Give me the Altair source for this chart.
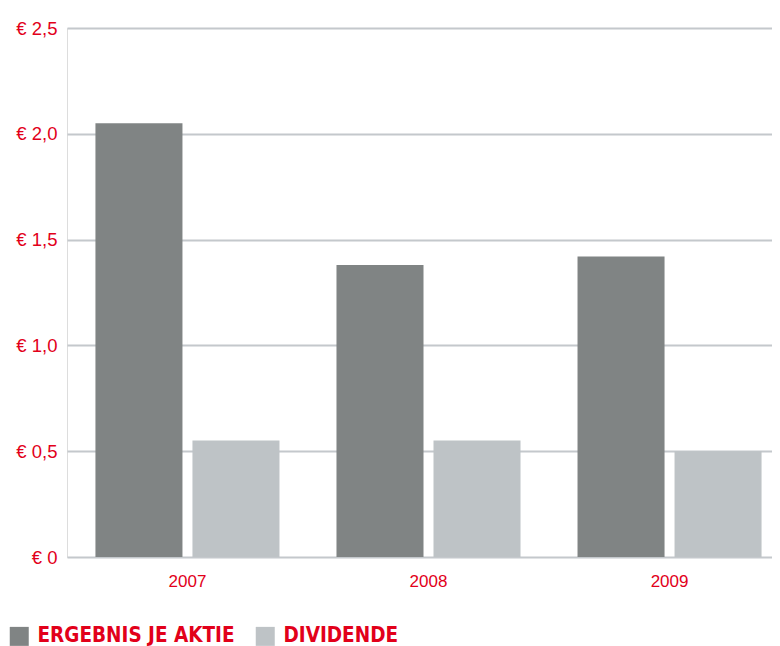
import altair as alt
import pandas as pd

years = ["2007", "2008", "2009"]
series = ["ERGEBNIS JE AKTIE", "DIVIDENDE"]
ergebnis = [2.05, 1.38, 1.42]
dividende = [0.55, 0.55, 0.50]
colors = ["#808484", "#bec3c6"]
y_ticks = [0, 0.5, 1.0, 1.5, 2.0, 2.5]

rows = []
for i, yr in enumerate(years):
    rows.append({"year": yr, "series": series[0], "value": ergebnis[i]})
    rows.append({"year": yr, "series": series[1], "value": dividende[i]})
df = pd.DataFrame(rows)

RED = "#e2001a"

chart = alt.Chart(df).mark_bar().encode(
    x=alt.X("year:N", sort=years, title=None,
            scale=alt.Scale(paddingInner=0.2365, paddingOuter=0.118, range=[0, 723]),
            axis=alt.Axis(labelAngle=0, labelColor=RED, labelFont="Liberation Sans",
                          labelFontSize=17, labelPadding=16, ticks=False, domain=False)),
    xOffset=alt.XOffset("series:N", sort=series,
                        scale=alt.Scale(paddingInner=0.103, paddingOuter=0)),
    y=alt.Y("value:Q", title=None,
            scale=alt.Scale(domain=[0, 2.5], nice=False),
            axis=alt.Axis(values=y_ticks, labelColor=RED, labelFont="Liberation Sans",
                          labelFontSize=18.5, labelPadding=10, ticks=False, domain=False,
                          grid=True, gridColor="#c4c8cc", gridWidth=2,
                          labelExpr="datum.value == 0 ? '€ 0' : '€ ' + replace(format(datum.value, '.1f'), '.', ',')")),
    color=alt.Color("series:N", sort=series, title=None,
                    scale=alt.Scale(domain=series, range=colors),
                    legend=alt.Legend(orient="none", legendX=-58, legendY=598,
                                      direction="horizontal", symbolType="square",
                                      symbolSize=361, symbolStrokeWidth=0,
                                      labelColor=RED,
                                      labelFont="DejaVu Sans Condensed",
                                      labelFontWeight="bold", labelFontSize=20.5,
                                      labelLimit=400, labelOffset=8, columnPadding=20,
                                      symbolOpacity=1)),
).properties(
    width=705, height=529,
    autosize=alt.AutoSizeParams(type="none"),
    padding={"left": 59, "top": 20, "right": 0, "bottom": 89},
).configure_view(stroke=None).configure(background="white")

chart.save("out.html", embed_options={"renderer": "svg", "actions": False})
